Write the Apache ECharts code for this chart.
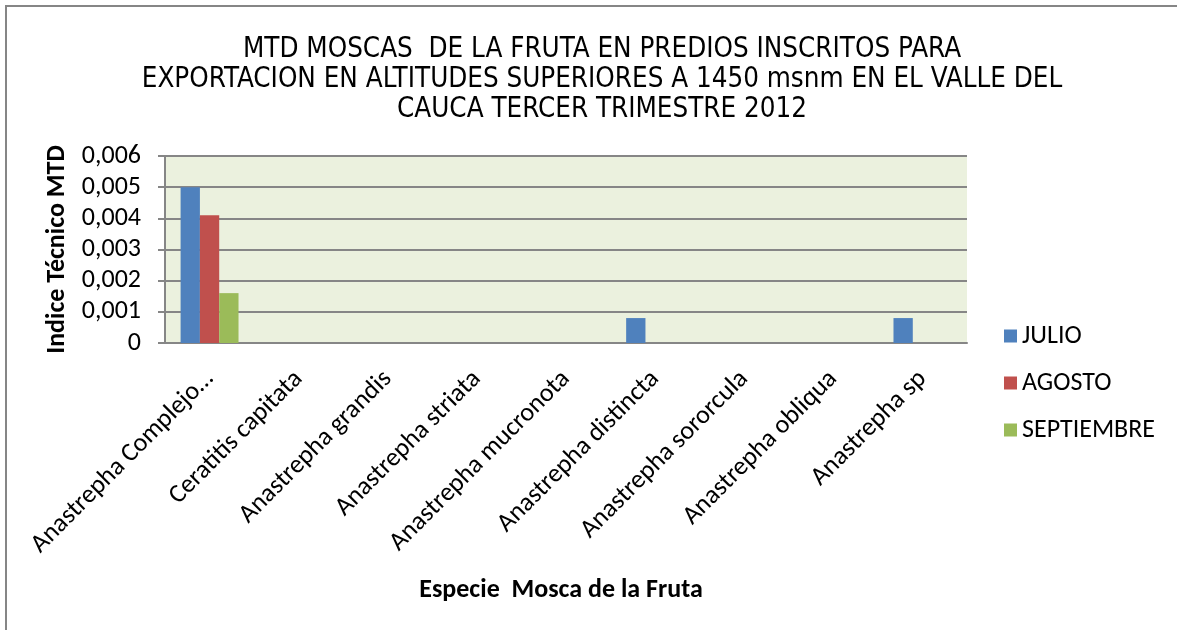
<!DOCTYPE html>
<html>
<head>
<meta charset="utf-8">
<script src="https://cdn.jsdelivr.net/npm/echarts@6/dist/echarts.min.js"></script>
<style>
  html, body { margin: 0; padding: 0; background: #fff; }
  #chart { width: 1177px; height: 630px; }
</style>
</head>
<body>
<div id="chart"></div>
<script>
// especies (eje x)
let especies = ['Anastrepha Complejo…', 'Ceratitis capitata', 'Anastrepha grandis', 'Anastrepha striata',
    'Anastrepha mucronota', 'Anastrepha distincta', 'Anastrepha sororcula', 'Anastrepha obliqua', 'Anastrepha sp']
// valores MTD por mes
let julio = [0.005, 0, 0, 0, 0, 0.0008, 0, 0, 0.0008]
let agosto = [0.0041, 0, 0, 0, 0, 0, 0, 0, 0]
let septiembre = [0.0016, 0, 0, 0, 0, 0, 0, 0, 0]
let meses = ['JULIO', 'AGOSTO', 'SEPTIEMBRE']
let colores = ['#4F81BD', '#C0504D', '#9BBB59']

let titulo = 'MTD MOSCAS  DE LA FRUTA EN PREDIOS INSCRITOS PARA\nEXPORTACION EN ALTITUDES SUPERIORES A 1450 msnm EN EL VALLE DEL\nCAUCA TERCER TRIMESTRE 2012'

let myChart = echarts.init(document.getElementById('chart'))
let txtFont = 'Carlito, Calibri, "Open Sans", "Noto Sans", sans-serif'

function serie(nombre, datos, i) {
    return {
        name: nombre,
        type: 'bar',
        data: datos,
        barGap: '0%',
        barCategoryGap: '35%',
        itemStyle: { color: colores[i] }
    }
}

let option = {
    backgroundColor: '#ffffff',
    animation: false,
    graphic: [{
        // marco del grafico (recortado a la derecha y abajo)
        type: 'rect',
        shape: { x: 6, y: 6, width: 1200, height: 660 },
        style: { fill: 'none', stroke: '#868686', lineWidth: 2 },
        z: 100
    }],
    title: {
        text: titulo,
        left: 597,
        top: 30,
        textAlign: 'center',
        textStyle: {
            fontFamily: '"DejaVu Sans Condensed", sans-serif',
            fontSize: 27.5,
            fontWeight: 'normal',
            lineHeight: 30,
            color: '#000'
        }
    },
    legend: {
        orient: 'vertical',
        left: 999,
        top: 318,
        itemWidth: 13,
        itemHeight: 13,
        itemGap: 21,
        icon: 'rect',
        data: meses,
        textStyle: { fontFamily: txtFont, fontSize: 26, color: '#000' }
    },
    grid: {
        left: 165,
        right: 210,
        top: 156,
        bottom: 287,
        show: true,
        backgroundColor: '#EBF1DE',
        borderWidth: 0
    },
    xAxis: {
        type: 'category',
        data: especies,
        name: 'Especie  Mosca de la Fruta',
        nameLocation: 'middle',
        nameGap: 234,
        nameTextStyle: { fontFamily: txtFont, fontSize: 26, fontWeight: 'bold', color: '#000', padding: [0, 0, 0, -10] },
        axisLine: { lineStyle: { color: '#868686', width: 2 } },
        axisTick: { show: false },
        axisLabel: {
            rotate: 45,
            interval: 0,
            margin: 32,
            fontFamily: txtFont,
            fontSize: 26,
            color: '#000'
        }
    },
    yAxis: {
        type: 'value',
        min: 0,
        max: 0.006,
        interval: 0.001,
        name: 'Indice Técnico MTD',
        nameLocation: 'middle',
        nameGap: 87,
        nameTextStyle: { fontFamily: txtFont, fontSize: 26, fontWeight: 'bold', color: '#000' },
        axisLine: { show: true, lineStyle: { color: '#868686', width: 2 } },
        axisTick: { show: true, inside: false, length: 7, lineStyle: { color: '#868686', width: 2 } },
        splitLine: { lineStyle: { color: '#868686', width: 2 } },
        axisLabel: {
            margin: 24,
            fontFamily: txtFont,
            fontSize: 26,
            color: '#000',
            formatter: function (v) {
                return v === 0 ? '0' : v.toFixed(3).replace('.', ',')
            }
        }
    },
    series: [
        serie(meses[0], julio, 0),
        serie(meses[1], agosto, 1),
        serie(meses[2], septiembre, 2)
    ]
}

myChart.setOption(option)
</script>
</body>
</html>
